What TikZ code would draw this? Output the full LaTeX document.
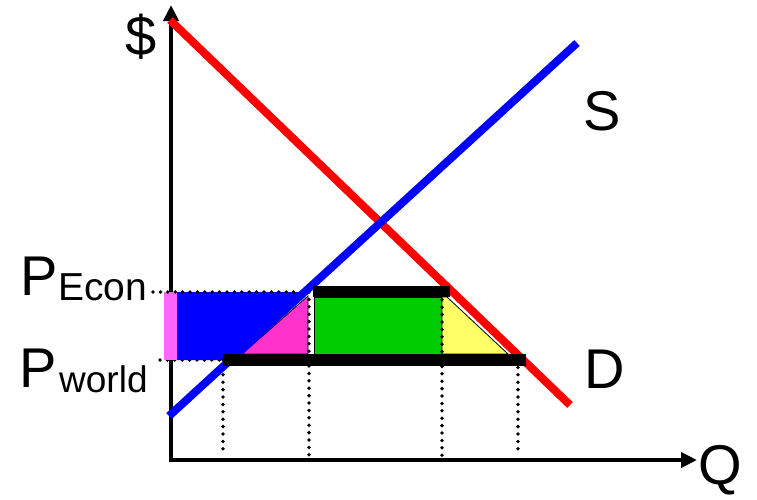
\documentclass[tikz,border=0pt]{standalone}
\usepackage{fontspec}
\setmainfont{Liberation Sans}
\usetikzlibrary{arrows.meta}
\definecolor{stripc}{HTML}{FF66FF}
\definecolor{tric}{HTML}{FF33CC}
\definecolor{grnc}{HTML}{00CC00}
\definecolor{yelc}{HTML}{FFFF66}
\begin{document}
\begin{tikzpicture}[x=1pt,y=-1pt,
  lbl/.style={inner sep=0pt, font=\fontsize{56}{60}\selectfont},
  subl/.style={inner sep=0pt, font=\fontsize{37}{40}\selectfont},
  curve/.style={line width=8pt},
  bar/.style={line width=11.5pt},
  dots/.style={line width=3.8pt, line cap=round, dash pattern=on 0pt off 7.4pt},
  thinedge/.style={draw=black, line width=0.8pt},
  axis/.style={line width=4pt, line join=miter, {Triangle[length=16pt,width=15pt]}-{Triangle[length=16pt,width=15pt]}}]
\useasboundingbox (0,0) rectangle (757,499);
% named coordinates
\coordinate (ytip) at (171,5);
\coordinate (orig) at (171,460);
\coordinate (xtip) at (697,460);
\coordinate (d1) at (170,20);
\coordinate (d2) at (570,405);
\coordinate (s1) at (169,416);
\coordinate (s2) at (577,43);
% axes
\draw[axis] (ytip) -- (orig) -- (xtip);
% dotted line at P_world (behind fills)
\draw[dots] (160,360) -- (230,360);
% fills
\fill[stripc] (164,292) rectangle (177,360);
\fill[blue] (177,292) -- (305,292) -- (230,360) -- (177,360) -- cycle;
\filldraw[fill=tric, thinedge] (242,354) -- (308,296) -- (308,354) -- cycle;
\filldraw[fill=grnc, thinedge] (314,297) rectangle (442,354);
\filldraw[fill=yelc, thinedge] (442,297) -- (447,297) -- (508,354) -- (442,354) -- cycle;
% dotted guides
\draw[dots] (153,292) -- (309,292);
\draw[dots] (223,360) -- (223,456);
\draw[dots] (309,292) -- (309,456);
\draw[dots] (442,285) -- (442,456);
\draw[dots] (518,360) -- (518,456);
% demand and supply
\draw[curve, red] (d1) -- (d2);
\draw[curve, blue] (s1) -- (s2);
% bars
\draw[bar] (313,291.5) -- (450,291.5);
\draw[bar] (223,360) -- (526,360);
% labels
\node[lbl, anchor=base] (dollar) at (141,55) {\$};
\node[lbl, anchor=base] (slab) at (602,130) {S};
\node[lbl, anchor=base] (dlab) at (605,388) {D};
\node[lbl, anchor=base] (qlab) at (720,484) {Q};
\node[lbl, anchor=base west] (pe) at (20,295) {P};
\node[subl, anchor=base west, font=\fontsize{39}{42}\selectfont] (econ) at (58,300) {Econ};
\node[lbl, anchor=base west] (pw) at (19,387) {P};
\node[subl, anchor=base west] (world) at (59,392) {world};
\end{tikzpicture}
\end{document}
